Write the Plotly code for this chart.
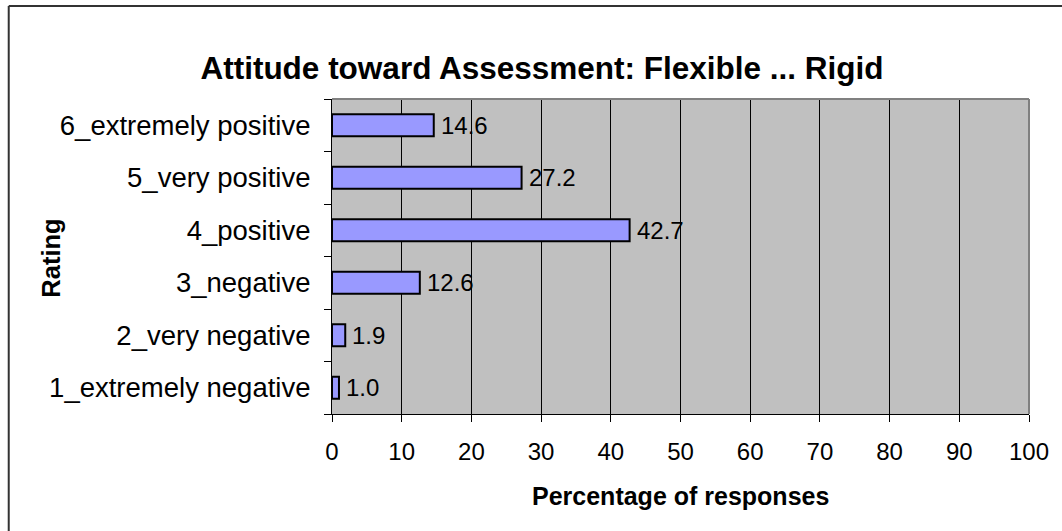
import plotly.graph_objects as go

# Survey results: attitude toward assessment (flexible ... rigid)
categories = [
    "1_extremely negative",
    "2_very negative",
    "3_negative",
    "4_positive",
    "5_very positive",
    "6_extremely positive",
]
percentages = [1.0, 1.9, 12.6, 42.7, 27.2, 14.6]
x_ticks = [0, 10, 20, 30, 40, 50, 60, 70, 80, 90, 100]

W, H = 1062, 531
L, R, T, B = 331.5, 1029, 99, 414  # plot area in pixels

FONT = "Liberation Sans, Arial, sans-serif"


def px_x(p):
    return (p - L) / (R - L)


def px_y(p):
    return (B - p) / (B - T)


fig = go.Figure(
    go.Bar(
        x=percentages,
        y=categories,
        orientation="h",
        marker=dict(color="#9999FF", line=dict(color="black", width=2)),
        cliponaxis=False,
        width=0.42,
    )
)

# value labels just past the end of each bar
value_labels = [
    dict(text=f"{v:.1f}", x=v, y=c, xref="x", yref="y", xanchor="left",
         yanchor="middle", xshift=5, showarrow=False,
         font=dict(family=FONT, size=24, color="black"))
    for c, v in zip(categories, percentages)
]

fig.update_layout(
    width=W,
    height=H,
    margin=dict(l=L, r=W - R, t=T, b=H - B, pad=0),
    paper_bgcolor="white",
    plot_bgcolor="#C0C0C0",
    showlegend=False,
    font=dict(family=FONT, size=24, color="black"),
    title=dict(
        text="<b>Attitude toward Assessment: Flexible ... Rigid</b>",
        x=542 / W,
        xanchor="center",
        y=1 - 68 / H,
        yanchor="middle",
        font=dict(family=FONT, size=31.5, color="black"),
    ),
    xaxis=dict(
        range=[0, 100],
        tickvals=x_ticks,
        ticktext=[str(t) for t in x_ticks],
        showgrid=True,
        gridcolor="black",
        gridwidth=1,
        zeroline=False,
        showline=True,
        linecolor="black",
        linewidth=1,
        ticks="outside",
        ticklen=7,
        tickcolor="black",
        tickfont=dict(family=FONT, size=24),
        ticklabelstandoff=9,
    ),
    yaxis=dict(
        type="category",
        categoryorder="array",
        categoryarray=categories,
        tickson="boundaries",
        showgrid=False,
        zeroline=False,
        showline=True,
        linecolor="black",
        linewidth=1,
        ticks="outside",
        ticklen=7,
        tickcolor="black",
        tickfont=dict(family=FONT, size=27.5),
        ticklabelstandoff=15,
    ),
    shapes=[
        # plot area frame, top and right edges
        dict(type="line", xref="paper", yref="paper", x0=0, x1=1, y0=1, y1=1,
             line=dict(color="#808080", width=2)),
        dict(type="line", xref="paper", yref="paper", x0=1, x1=1, y0=0, y1=1,
             line=dict(color="#808080", width=2)),
        # chart border
        dict(type="line", xref="paper", yref="paper",
             x0=px_x(8), x1=px_x(W + 20), y0=px_y(6), y1=px_y(6),
             line=dict(color="#333333", width=2)),
        dict(type="line", xref="paper", yref="paper",
             x0=px_x(8), x1=px_x(8), y0=px_y(6), y1=px_y(H + 20),
             line=dict(color="#333333", width=2)),
    ],
    annotations=value_labels + [
        dict(text="<b>Percentage of responses</b>", xref="paper", yref="paper",
             x=px_x(680), y=px_y(496), xanchor="center", yanchor="middle",
             showarrow=False, font=dict(family=FONT, size=25, color="black")),
        dict(text="<b>Rating</b>", xref="paper", yref="paper",
             x=px_x(50), y=px_y(258), xanchor="center", yanchor="middle",
             textangle=-90, showarrow=False,
             font=dict(family=FONT, size=25.5, color="black")),
    ],
)

fig.write_html("out.html")
